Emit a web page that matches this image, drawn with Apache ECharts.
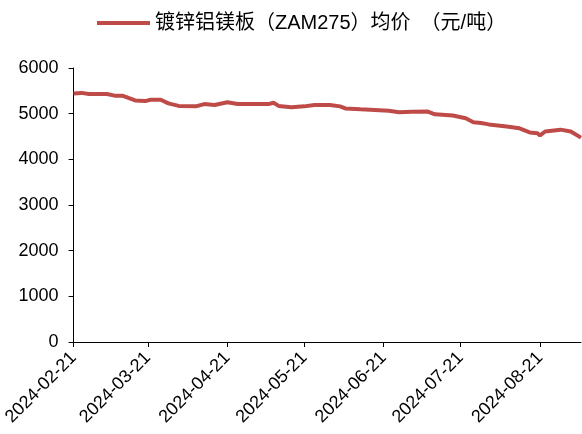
<!DOCTYPE html>
<html>
<head>
<meta charset="utf-8">
<title>镀锌铝镁板均价</title>
<script src="https://cdn.jsdelivr.net/npm/echarts@6/dist/echarts.min.js"></script>
<style>
    html, body { margin: 0; padding: 0; background: #fff; }
    #chart { width: 582px; height: 434px; }
</style>
</head>
<body>
<div id="chart"></div>
<script>
    var seriesName = '镀锌铝镁板（ZAM275）均价　（元/吨）';
    var startDate = '2024-02-21';
    var endDate = '2024-09-06';

    // 读图得到的价格拐点（日期, 元/吨）
    var priceDates = [
        '2024-02-21', '2024-02-24', '2024-02-27', '2024-03-05', '2024-03-08',
        '2024-03-11', '2024-03-16', '2024-03-20', '2024-03-22', '2024-03-26',
        '2024-03-29', '2024-04-02', '2024-04-09', '2024-04-12', '2024-04-16',
        '2024-04-21', '2024-04-25', '2024-05-07', '2024-05-09', '2024-05-11',
        '2024-05-16', '2024-05-21', '2024-05-25', '2024-05-31', '2024-06-04',
        '2024-06-06', '2024-06-12', '2024-06-23', '2024-06-27', '2024-07-02',
        '2024-07-08', '2024-07-11', '2024-07-18', '2024-07-23', '2024-07-26',
        '2024-07-29', '2024-08-01', '2024-08-08', '2024-08-13', '2024-08-17',
        '2024-08-20', '2024-08-21', '2024-08-23', '2024-08-29', '2024-09-02',
        '2024-09-06'
    ];
    var priceValues = [
        5440, 5455, 5430, 5430, 5395,
        5395, 5290, 5275, 5305, 5305,
        5225, 5170, 5165, 5210, 5190,
        5250, 5210, 5210, 5240, 5170,
        5140, 5160, 5190, 5190, 5160,
        5115, 5095, 5065, 5030, 5040,
        5050, 4985, 4960, 4900, 4810,
        4795, 4765, 4720, 4680, 4590,
        4570, 4525, 4610, 4650, 4610,
        4475
    ];
    var yTicks = { min: 0, max: 6000, interval: 1000 };

    // 日历日期作为类目轴
    var categories = [];
    var d = new Date(startDate + 'T00:00:00Z');
    var end = new Date(endDate + 'T00:00:00Z');
    while (d <= end) {
        categories.push(d.toISOString().slice(0, 10));
        d.setUTCDate(d.getUTCDate() + 1);
    }

    var seriesData = priceDates.map(function (t, i) {
        return [t, priceValues[i]];
    });

    var isTickDay = function (idx, val) {
        return val.slice(8) === '21';
    };

    var font = '"Liberation Sans", Arial, "Noto Sans CJK SC", sans-serif';

    var option = {
        animation: false,
        textStyle: { fontFamily: font },
        legend: {
            left: 92,
            top: 8,
            icon: 'rect',
            itemWidth: 53,
            itemHeight: 4,
            itemGap: 10,
            textStyle: { fontSize: 20, color: '#000', fontFamily: font },
            data: [seriesName]
        },
        grid: {
            left: 73,
            right: 1,
            top: 68,
            bottom: 92
        },
        xAxis: {
            type: 'category',
            boundaryGap: false,
            data: categories,
            axisLine: { show: true, lineStyle: { color: '#000', width: 1 } },
            axisTick: { show: true, length: 5, interval: isTickDay, lineStyle: { color: '#000' } },
            axisLabel: {
                interval: isTickDay,
                rotate: 45,
                fontSize: 18,
                color: '#000',
                margin: 13
            },
            splitLine: { show: false }
        },
        yAxis: {
            type: 'value',
            min: yTicks.min,
            max: yTicks.max,
            interval: yTicks.interval,
            axisLine: { show: true, lineStyle: { color: '#000', width: 1 } },
            axisTick: { show: true, length: 5, lineStyle: { color: '#000' } },
            axisLabel: {
                fontSize: 18,
                color: '#000',
                margin: 15,
                formatter: function (v) { return String(v); }
            },
            splitLine: { show: false }
        },
        series: [{
            name: seriesName,
            type: 'line',
            data: seriesData,
            symbol: 'none',
            showSymbol: false,
            itemStyle: { color: '#BF4B48' },
            lineStyle: { color: '#BF4B48', width: 4 }
        }]
    };

    var myChart = echarts.init(document.getElementById('chart'));
    myChart.setOption(option);
</script>
</body>
</html>
